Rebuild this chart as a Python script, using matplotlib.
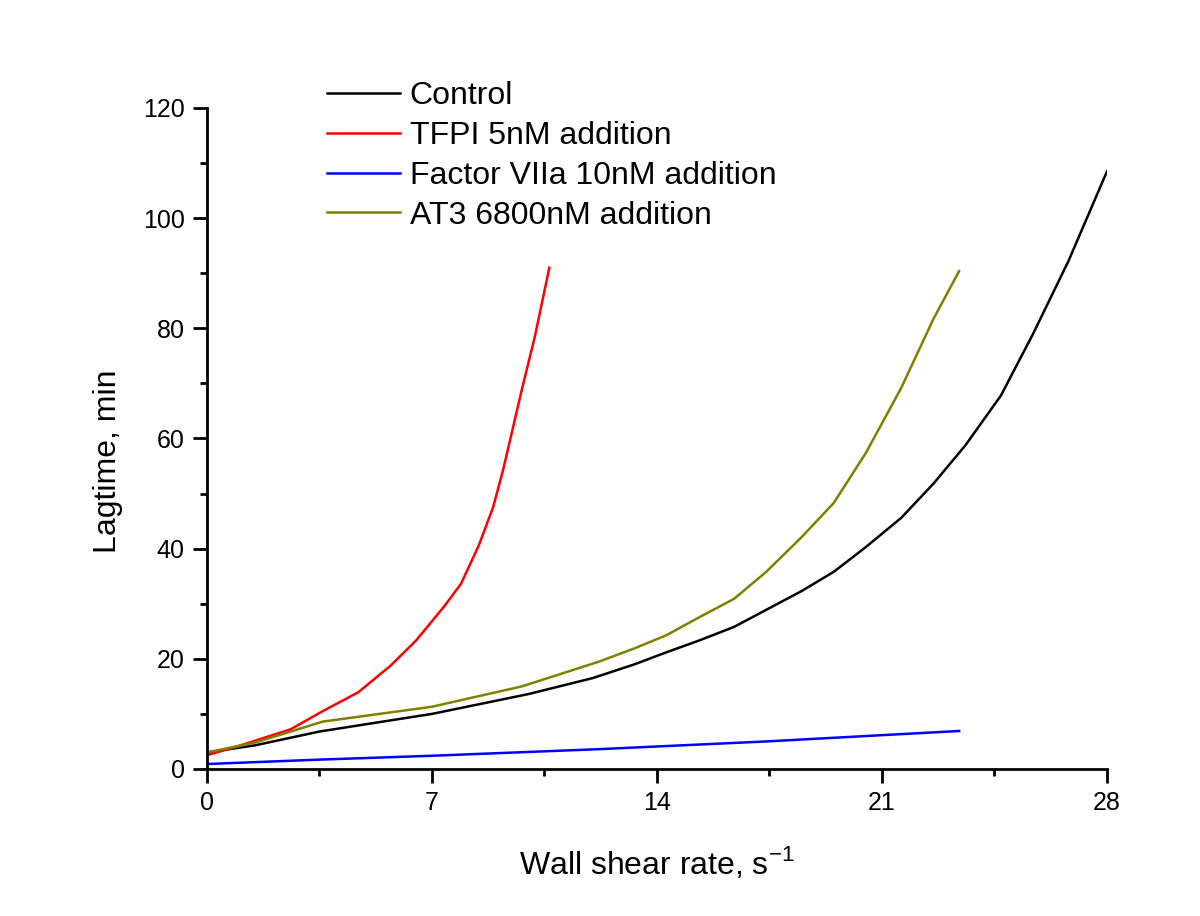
import matplotlib
matplotlib.use("Agg")
import matplotlib.pyplot as plt
from matplotlib.ticker import MultipleLocator

plt.rcParams['font.family'] = ['Liberation Sans', 'DejaVu Sans']

# values
control_x = [0, 1.5, 3.5, 7, 10, 12, 13.3, 14.3, 15.3, 16.4, 17.4, 18.5, 19.5, 20.5, 21.6, 22.6, 23.6, 24.7, 25.7, 26.8, 28]
control_y = [3.0, 4.3, 6.8, 10.0, 13.6, 16.5, 19.0, 21.2, 23.3, 25.8, 28.9, 32.3, 35.8, 40.3, 45.6, 51.8, 58.8, 67.8, 79.0, 92.2, 108.5]

tfpi_x = [0, 1.0, 2.6, 3.6, 4.7, 5.7, 6.5, 7.35, 7.9, 8.45, 8.9, 9.2, 9.5, 9.8, 10.2, 10.65]
tfpi_y = [2.5, 4.2, 7.2, 10.5, 13.9, 18.7, 23.3, 29.3, 33.6, 40.5, 47.5, 54.0, 61.5, 69.0, 78.5, 91.0]

f7_x = [0, 3.5, 7, 12.2, 17.4, 23.4]
f7_y = [0.9, 1.7, 2.4, 3.6, 5.0, 6.9]

at3_x = [0, 1.5, 3.6, 7, 9.8, 12.2, 13.3, 14.3, 15.3, 16.4, 17.4, 18.5, 19.5, 20.5, 21.6, 22.6, 23.4]
at3_y = [3.0, 4.8, 8.6, 11.3, 15.0, 19.5, 21.9, 24.3, 27.5, 30.9, 35.8, 42.1, 48.3, 57.4, 69.2, 81.7, 90.4]

labels = ["Control", "TFPI 5nM addition", "Factor VIIa 10nM addition", "AT3 6800nM addition"]
colors = ["#000000", "#ff0000", "#0000ff", "#808000"]

fig = plt.figure(figsize=(12, 9.16), dpi=100)
ax = fig.add_axes([0.1725, 0.1605, 0.75, 0.7216])

series = [(control_x, control_y), (tfpi_x, tfpi_y), (f7_x, f7_y), (at3_x, at3_y)]
for (xs, ys), lab, c in zip(series, labels, colors):
    ax.plot(xs, ys, color=c, lw=1.8, label=lab)

ax.set_xlim(0, 28)
ax.set_ylim(0, 120)
ax.xaxis.set_major_locator(MultipleLocator(7))
ax.xaxis.set_minor_locator(MultipleLocator(3.5))
ax.yaxis.set_major_locator(MultipleLocator(20))
ax.yaxis.set_minor_locator(MultipleLocator(10))

for side in ['top', 'right']:
    ax.spines[side].set_visible(False)
for side in ['left', 'bottom']:
    ax.spines[side].set_linewidth(2)

ax.tick_params(which='major', direction='out', length=10, width=2, labelsize=18, pad=6)
ax.tick_params(which='minor', direction='out', length=5, width=2)

ax.set_xlabel("Wall shear rate, s$^{\\mathregular{-1}}$", fontsize=23)
ax.set_ylabel("Lagtime, min", fontsize=23)
ax.xaxis.set_label_coords(0.5, -0.115)
ax.yaxis.set_label_coords(-0.093, 0.465)

ax.legend(loc='upper left', bbox_to_anchor=(0.133, 1.041), frameon=False, fontsize=23,
          handlelength=2.3, handletextpad=0.3, labelspacing=0.31, borderpad=0, borderaxespad=0)

fig.savefig("out.png", dpi=100)
